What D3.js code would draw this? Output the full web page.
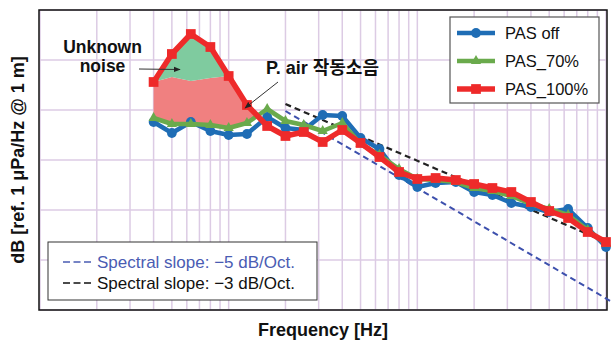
<!DOCTYPE html>
<html>
<head>
<meta charset="utf-8">
<script src="https://cdn.jsdelivr.net/npm/d3@7"></script>
<style>
  html, body { margin: 0; padding: 0; background: #fff; }
  svg { display: block; }
</style>
</head>
<body>
<svg id="chart" width="613" height="341"></svg>
<script>
// 1/3-octave band centre frequencies [Hz]
const bands = [40, 50, 63, 80, 100, 125, 160, 200, 250, 315, 400, 500, 630, 800,
               1000, 1250, 1600, 2000, 2500, 3150, 4000, 5000, 6300, 8000, 10000];

// Radiated noise spectra, dB re 1 μPa/Hz @ 1 m
const pasOff = [117.6, 115.4, 117.6, 115.8, 115.0, 115.2, 118.6, 116.4, 116.0, 119.0, 118.8, 114.4, 112.2,
                107.0, 104.6, 105.4, 105.6, 103.6, 103.0, 101.4, 100.6, 99.6, 100.2, 96.4, 92.6];
const pas70 = [118.4, 117.2, 117.2, 117.0, 116.4, 117.4, 120.2, 117.8, 117.0, 115.8, 117.4, 113.2, 111.0,
               108.2, 106.2, 106.0, 105.6, 104.4, 103.8, 102.8, 101.2, 100.2, 99.0, 96.0, 93.2];
const pas100 = [125.6, 131.2, 135.2, 132.6, 126.8, 121.0, 116.8, 114.8, 115.6, 113.6, 116.0, 113.4, 110.6,
                107.6, 106.2, 106.4, 106.0, 105.2, 104.4, 103.6, 101.6, 99.8, 98.4, 95.6, 93.6];

// P. air operating noise level in the low bands (upper edge of the pink region)
const airBands = [40, 50, 63, 80, 100];
const airNoise = [125.6, 126.6, 125.8, 126.4, 126.8];

// Reference spectral-slope lines: [freq, dB] end points
const slope5 = [[200, 119.8], [11000, 81.4]];
const slope3 = [[200, 121.2], [10000, 93.6]];

const seriesNames = ["PAS off", "PAS_70%", "PAS_100%"];
const seriesColors = ["#1f6db5", "#6aaa4c", "#ee2a2a"];
const slopeLabels = ["Spectral slope: \u22125 dB/Oct.", "Spectral slope: \u22123 dB/Oct."];

const m = { left: 40, right: 606, top: 10, bottom: 310 };
const svg = d3.select("#chart");

const x = d3.scaleLog().domain([10, 10000]).range([m.left, m.right]);
const y = d3.scaleLinear().domain([80, 140]).range([m.bottom, m.top]);

const font = "'Liberation Sans', Arial, 'Noto Sans CJK KR', sans-serif";

// grid
const grid = svg.append("g").attr("stroke", "#dccbe4").attr("stroke-width", 1.5);
grid.selectAll("line.v").data(x.ticks()).join("line")
  .attr("x1", d => x(d)).attr("x2", d => x(d))
  .attr("y1", m.top).attr("y2", m.bottom);
grid.selectAll("line.h").data(y.ticks(6)).join("line")
  .attr("x1", m.left).attr("x2", m.right)
  .attr("y1", d => y(d)).attr("y2", d => y(d));

// shaded regions
const red = bands.map((f, i) => [x(f), y(pas100[i])]);
const grn = bands.map((f, i) => [x(f), y(pas70[i])]);
const air = airBands.map((f, i) => [x(f), y(airNoise[i])]);

// crossing of PAS_100% and PAS_70% between 125 and 160 Hz
function cross(a1, a2, b1, b2) {
  const d1 = a1[1] - b1[1], d2 = a2[1] - b2[1];
  const t = d1 / (d1 - d2);
  return [a1[0] + t * (a2[0] - a1[0]), a1[1] + t * (a2[1] - a1[1])];
}
const i125 = bands.indexOf(125), i160 = bands.indexOf(160);
const cp = cross(red[i125], red[i160], grn[i125], grn[i160]);

const pinkPoly = [...air, red[i125], cp, ...grn.slice(0, i125 + 1).reverse()];
const mintPoly = [...red.slice(0, airBands.length), ...air.slice().reverse()];

svg.append("path").attr("d", "M" + pinkPoly.join("L") + "Z").attr("fill", "#f08080");
svg.append("path").attr("d", "M" + mintPoly.join("L") + "Z").attr("fill", "#7fcb9f");

// frame
svg.append("rect").attr("x", m.left - 1).attr("y", m.top)
  .attr("width", m.right - m.left + 2).attr("height", m.bottom - m.top)
  .attr("fill", "none").attr("stroke", "#111").attr("stroke-width", 1.5);

// slope lines
const lineXY = d3.line().x(d => x(d[0])).y(d => y(d[1]));
svg.append("path").attr("d", lineXY(slope5)).attr("fill", "none")
  .attr("stroke", "#3d50ad").attr("stroke-width", 2).attr("stroke-dasharray", "6,4");
svg.append("path").attr("d", lineXY(slope3)).attr("fill", "none")
  .attr("stroke", "#222").attr("stroke-width", 2.2).attr("stroke-dasharray", "6,4");

// data series
const series = [pasOff, pas70, pas100];
const line = d3.line().x(d => x(d.f)).y(d => y(d.v));
const sym = [d3.symbolCircle, d3.symbolTriangle, d3.symbolSquare];
const symSize = [75, 45, 95];
const lw = [4.5, 4.5, 5.5];

series.forEach((vals, s) => {
  const pts = bands.map((f, i) => ({ f, v: vals[i] }));
  const g = svg.append("g");
  g.append("path").attr("d", line(pts)).attr("fill", "none")
    .attr("stroke", seriesColors[s]).attr("stroke-width", lw[s]).attr("stroke-linejoin", "round");
  g.selectAll("path.mk").data(pts).join("path").attr("class", "mk")
    .attr("transform", d => `translate(${x(d.f)},${y(d.v)})`)
    .attr("d", d3.symbol(sym[s], symSize[s])).attr("fill", seriesColors[s]);
});

// arrow marker
svg.append("defs").append("marker").attr("id", "ah")
  .attr("viewBox", "0 0 10 10").attr("refX", 9).attr("refY", 5)
  .attr("markerWidth", 7).attr("markerHeight", 7).attr("orient", "auto")
  .attr("markerUnits", "userSpaceOnUse")
  .append("path").attr("d", "M0,1L10,5L0,9Z").attr("fill", "#222");

// annotations
const ann = svg.append("g").attr("font-family", font).attr("font-weight", "bold")
  .attr("fill", "#111");
ann.append("text").attr("x", 102.5).attr("y", 53).attr("font-size", 17.5)
  .attr("text-anchor", "middle").text("Unknown");
ann.append("text").attr("x", 102.5).attr("y", 72).attr("font-size", 17.5)
  .attr("text-anchor", "middle").text("noise");
ann.append("text").attr("x", 266).attr("y", 74).attr("font-size", 18).text("P. air 작동소음");

svg.append("line").attr("x1", 139).attr("y1", 69).attr("x2", 180).attr("y2", 69.5)
  .attr("stroke", "#333").attr("stroke-width", 1).attr("marker-end", "url(#ah)");
svg.append("line").attr("x1", 278).attr("y1", 82).attr("x2", 245).attr("y2", 108)
  .attr("stroke", "#333").attr("stroke-width", 1).attr("marker-end", "url(#ah)");

// series legend
const lg = svg.append("g");
lg.append("rect").attr("x", 450).attr("y", 17).attr("width", 149).attr("height", 86)
  .attr("fill", "#fff").attr("stroke", "#555").attr("stroke-width", 1.2);
seriesNames.forEach((name, s) => {
  const yy = 33 + s * 28;
  lg.append("line").attr("x1", 457).attr("x2", 495).attr("y1", yy).attr("y2", yy)
    .attr("stroke", seriesColors[s]).attr("stroke-width", lw[s]);
  lg.append("path").attr("transform", `translate(476,${yy})`)
    .attr("d", d3.symbol(sym[s], symSize[s])).attr("fill", seriesColors[s]);
  lg.append("text").attr("x", 505).attr("y", yy).attr("dy", "0.35em")
    .attr("font-family", font).attr("font-size", 16.5).attr("fill", "#111").text(name);
});

// slope legend
const sl = svg.append("g");
sl.append("rect").attr("x", 48).attr("y", 242).attr("width", 269).attr("height", 58)
  .attr("fill", "#fff").attr("stroke", "#333").attr("stroke-width", 1);
const slColors = ["#4a5cb3", "#111"];
slopeLabels.forEach((t, i) => {
  const yy = 262 + i * 21;
  sl.append("line").attr("x1", 63).attr("x2", 91).attr("y1", yy).attr("y2", yy)
    .attr("stroke", slColors[i]).attr("stroke-width", 1.3).attr("stroke-dasharray", "7,3.5");
  sl.append("text").attr("x", 97).attr("y", yy).attr("dy", "0.35em")
    .attr("font-family", font).attr("font-size", 17).attr("fill", slColors[i]).text(t);
});

// axis titles
svg.append("text").attr("x", (m.left + m.right) / 2).attr("y", 336)
  .attr("text-anchor", "middle").attr("font-family", font).attr("font-weight", "bold")
  .attr("font-size", 18).attr("fill", "#111").text("Frequency [Hz]");
svg.append("text").attr("transform", `translate(24,160) rotate(-90)`)
  .attr("text-anchor", "middle").attr("font-family", font).attr("font-weight", "bold")
  .attr("font-size", 18).attr("fill", "#111").text("dB [ref. 1 μPa/Hz @ 1 m]");
</script>
</body>
</html>
